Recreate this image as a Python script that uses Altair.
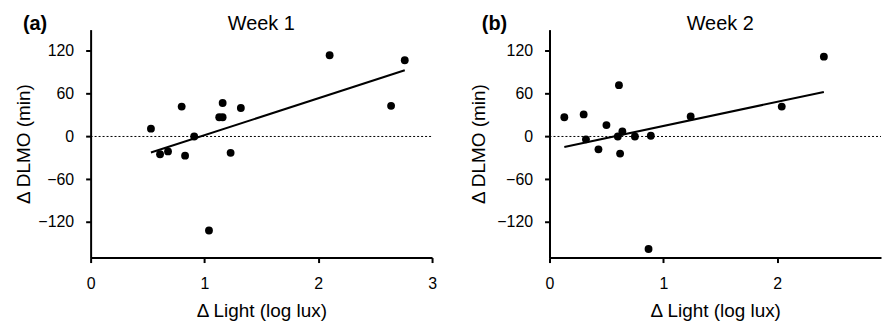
import altair as alt
import pandas as pd

# Week 1 data (Δ Light in log lux, Δ DLMO in min)
w1_x = [0.53, 0.61, 0.68, 0.80, 0.83, 0.91, 1.04, 1.13, 1.16, 1.16, 1.23, 1.32, 2.10, 2.64, 2.76]
w1_y = [11, -25, -21, 42, -27, 0, -132, 27, 27, 47, -23, 40, 114, 43, 107]
# Week 2 data
w2_x = [0.13, 0.30, 0.32, 0.43, 0.50, 0.60, 0.61, 0.62, 0.64, 0.75, 0.89, 0.87, 1.24, 2.04, 2.41]
w2_y = [27, 31, -4, -18, 16, 0, 72, -24, 7, 0, 1, -158, 28, 42, 112]

x_ticks = [0, 1, 2, 3]
y_ticks = [-120, -60, 0, 60, 120]
x_domain_a = [0, 3]
x_domain_b = [0, 2.912]   # right part of week-2 axis is cut by the figure edge
y_domain = [-170, 150]

FONT = "Liberation Sans"
H = 229


def panel(xs, ys, title, tag, xdom, w, ytp):
    df = pd.DataFrame({"light": xs, "dlmo": ys})
    base = alt.Chart(df)
    one = alt.Chart(pd.DataFrame({"title": [title], "tag": [tag]}))
    x = alt.X("light:Q", scale=alt.Scale(domain=xdom, nice=False, zero=False),
              axis=alt.Axis(values=[t for t in x_ticks if t <= xdom[1]],
                            title="Δ Light (log lux)", format="d"))
    y = alt.Y("dlmo:Q", scale=alt.Scale(domain=y_domain, nice=False, zero=False),
              axis=alt.Axis(values=y_ticks, title="Δ DLMO (min)", format="d",
                            titlePadding=ytp))
    zero = one.mark_rule(color="black", strokeWidth=1, strokeDash=[2, 2]).encode(
        y=alt.datum(0), x=alt.value(0), x2=alt.value(w))
    pts = base.mark_circle(color="black", opacity=1, size=62).encode(x=x, y=y)
    fit = base.transform_regression("light", "dlmo").mark_line(
        color="black", strokeWidth=2).encode(x=x, y=y)
    head = one.mark_text(font=FONT, fontSize=20, fontWeight="normal",
                         align="center", baseline="middle", color="black").encode(
        text="title:N", x=alt.value(171.5), y=alt.value(-6))
    lab = one.mark_text(font=FONT, fontSize=20, fontWeight="bold",
                        align="left", baseline="middle", color="black").encode(
        text="tag:N", x=alt.value(-68), y=alt.value(-6))
    return alt.layer(zero, fit, pts, head, lab).properties(width=w, height=H)


chart = alt.hconcat(
    panel(w1_x, w1_y, "Week 1", "(a)", x_domain_a, 343, 4),
    panel(w2_x, w2_y, "Week 2", "(b)", x_domain_b, 333, 8),
    spacing=32,
).properties(
    padding={"left": 6, "top": 5, "right": 0, "bottom": 0}
).configure_view(stroke=None).configure_axis(
    grid=False,
    domainColor="black", domainWidth=2,
    tickColor="black", tickWidth=2, tickSize=5,
    labelFont=FONT, labelFontSize=16, labelColor="black",
    titleFont=FONT, titleFontSize=19, titleFontWeight="normal", titleColor="black",
).configure_axisY(labelPadding=12).configure_axisX(
    labelPadding=13, titlePadding=10, labelFlush=False)

chart.save("out.html", embed_options={"renderer": "svg", "actions": False})
